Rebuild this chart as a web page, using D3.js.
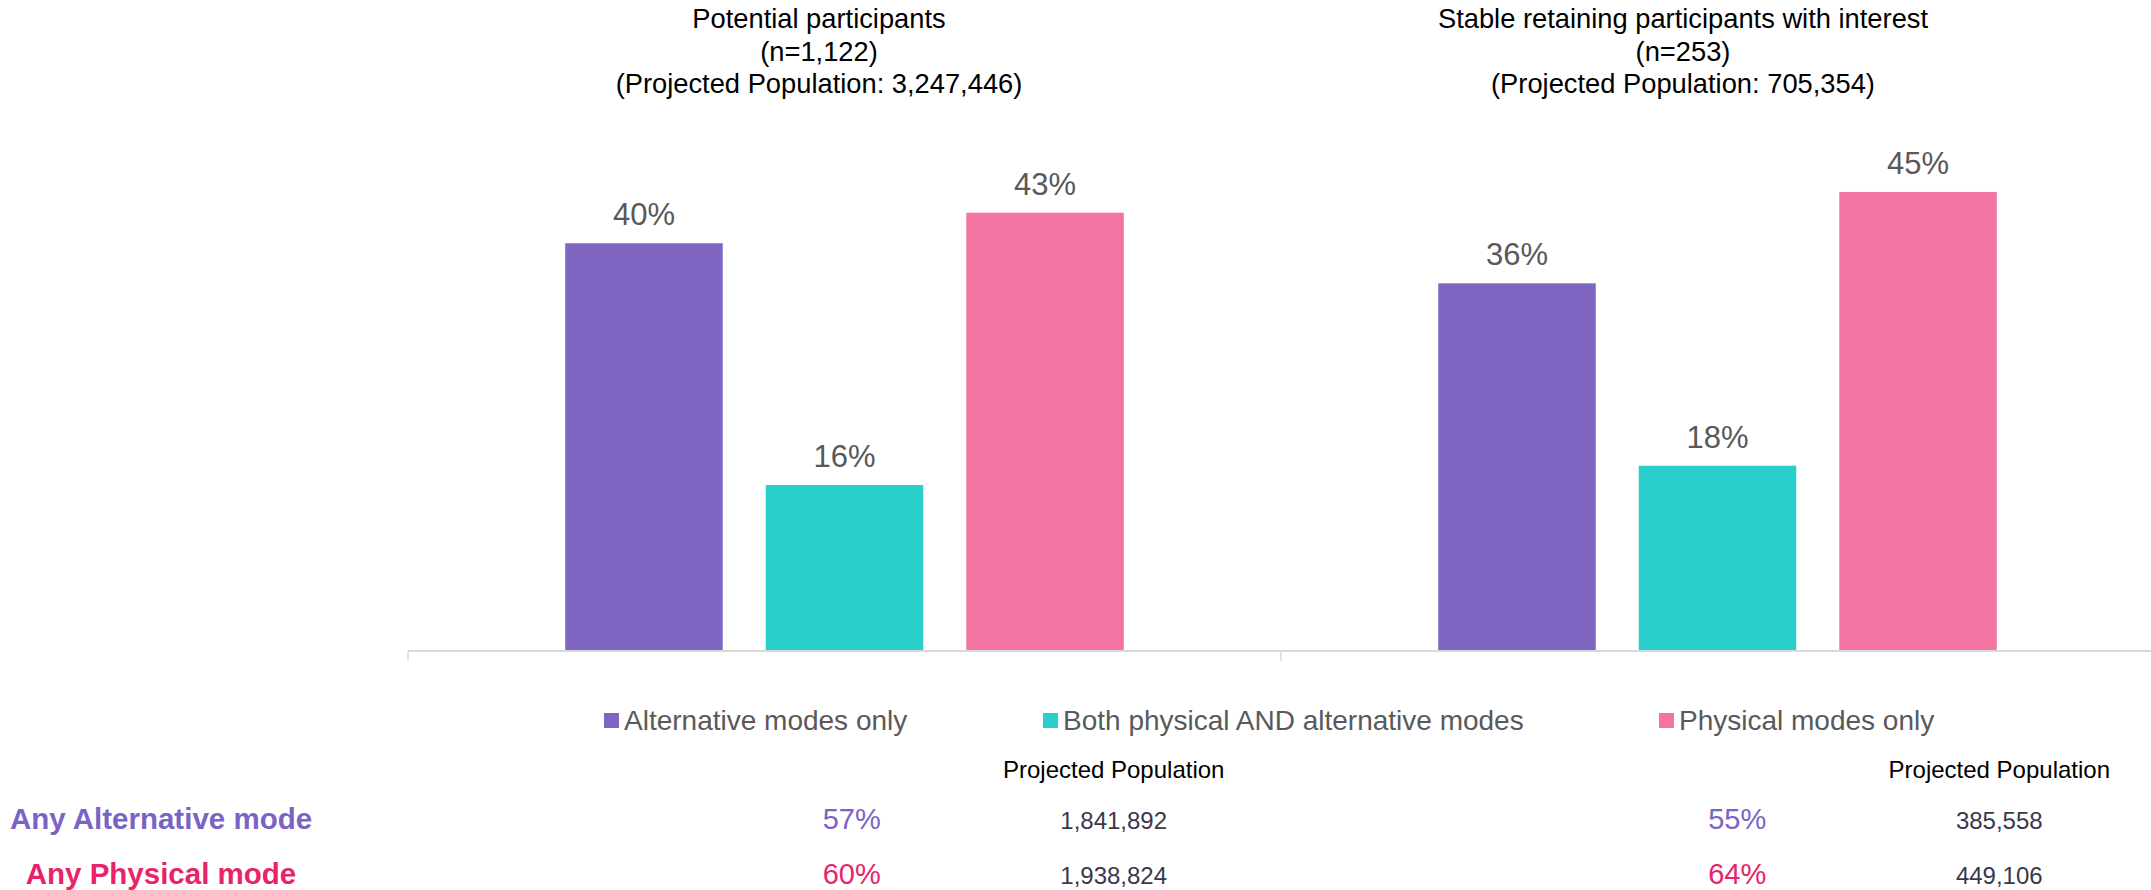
<!DOCTYPE html>
<html>
<head>
<meta charset="utf-8">
<script src="https://cdn.jsdelivr.net/npm/d3@7"></script>
<style>
  html, body { margin: 0; padding: 0; background: #ffffff; }
  svg { display: block; font-family: "Liberation Sans", Arial, sans-serif; }
</style>
</head>
<body>
<svg id="chart" width="2151" height="890"></svg>
<script>
// ---- data ----
const categories = ["Potential participants", "Stable retaining participants with interest"];
const sampleSizes = ["(n=1,122)", "(n=253)"];
const projectedTotals = ["(Projected Population: 3,247,446)", "(Projected Population: 705,354)"];
const seriesNames = ["Alternative modes only", "Both physical AND alternative modes", "Physical modes only"];
const alternativeOnly = [0.4029, 0.3633];
const bothModes = [0.164, 0.1831];
const physicalOnly = [0.4331, 0.4536];
const rowLabels = ["Any Alternative mode", "Any Physical mode"];
const anyAlternativePct = [0.57, 0.55];
const anyPhysicalPct = [0.60, 0.64];
const anyAlternativePop = [1841892, 385558];
const anyPhysicalPop = [1938824, 449106];
const popHeader = "Projected Population";

// ---- layout ----
const W = 2151, H = 890;
const baseY = 651;
const seriesColors = ["#7F66C2", "#2ACFCB", "#F374A2"];
const rowColors = ["#7B63C6", "#E8236A"];
const svg = d3.select("#chart");

const x0 = d3.scaleBand().domain(categories).range([408, 2154]).padding(0);
const x1 = d3.scaleBand().domain(seriesNames).range([0, x0.bandwidth()])
  .paddingInner(0.2145).paddingOuter(0.784);
const y = d3.scaleLinear().domain([0, 0.5]).range([baseY, baseY - 506]);
const color = d3.scaleOrdinal().domain(seriesNames).range(seriesColors);

const seriesValues = [alternativeOnly, bothModes, physicalOnly];
const rows = [];
categories.forEach((c, ci) => {
  seriesNames.forEach((s, si) => rows.push({cat: c, series: s, value: seriesValues[si][ci]}));
});

// bars
svg.append("g").selectAll("rect").data(rows).join("rect")
  .attr("x", d => x0(d.cat) + x1(d.series))
  .attr("y", d => y(d.value))
  .attr("width", x1.bandwidth())
  .attr("height", d => y(0) - y(d.value))
  .attr("fill", d => color(d.series));

// bar labels
const pct = d3.format(".0%");
svg.append("g").selectAll("text").data(rows).join("text")
  .attr("x", d => x0(d.cat) + x1(d.series) + x1.bandwidth() / 2)
  .attr("y", d => y(d.value) - 18)
  .attr("text-anchor", "middle")
  .attr("font-size", 31)
  .attr("fill", "#595959")
  .text(d => pct(d.value));

// axis line with category boundary ticks
const axis = d3.axisBottom(x0).tickSize(0).tickFormat("");
const ag = svg.append("g").attr("transform", `translate(0,${baseY})`).call(axis);
ag.select(".domain").attr("stroke", "#d9d9d9").attr("stroke-width", 2)
  .attr("d", `M${x0.range()[0]},0H${x0.range()[1]}`);
const bounds = categories.map(c => x0(c)).concat([x0.range()[1]]);
ag.selectAll(".bound").data(bounds).join("line")
  .attr("class", "bound")
  .attr("x1", d => d).attr("x2", d => d)
  .attr("y1", 0).attr("y2", 10)
  .attr("stroke", "#d9d9d9").attr("stroke-width", 1.5);

// titles
const titleCenters = [819, 1683];
categories.forEach((c, i) => {
  const t = svg.append("text").attr("text-anchor", "middle").attr("font-size", 27.3).attr("fill", "#000");
  [c, sampleSizes[i], projectedTotals[i]].forEach((line, li) => {
    t.append("tspan").attr("x", titleCenters[i]).attr("y", 28 + li * 32.5).text(line);
  });
});

// legend
const legendX = [604, 1043, 1659];
const lg = svg.append("g");
seriesNames.forEach((s, i) => {
  lg.append("rect").attr("x", legendX[i]).attr("y", 713).attr("width", 15).attr("height", 15)
    .attr("fill", color(s));
  lg.append("text").attr("x", legendX[i] + 20).attr("y", 730)
    .attr("font-size", 28).attr("fill", "#595959").text(s);
});

// summary table
const pctCols = [851.7, 1737.2];
const popCols = [1113.7, 1999.3];
const rowY = [829, 884];
const num = d3.format(",");
const pctRows = [anyAlternativePct, anyPhysicalPct];
const popRows = [anyAlternativePop, anyPhysicalPop];

popCols.forEach(px => {
  svg.append("text").attr("x", px).attr("y", 778).attr("text-anchor", "middle")
    .attr("font-size", 24).attr("fill", "#000").text(popHeader);
});
rowLabels.forEach((lab, ri) => {
  svg.append("text").attr("x", 161).attr("y", rowY[ri]).attr("text-anchor", "middle")
    .attr("font-size", 29.5).attr("font-weight", "bold").attr("fill", rowColors[ri]).text(lab);
  categories.forEach((c, ci) => {
    svg.append("text").attr("x", pctCols[ci]).attr("y", rowY[ri]).attr("text-anchor", "middle")
      .attr("font-size", 29).attr("fill", rowColors[ri]).text(pct(pctRows[ri][ci]));
    svg.append("text").attr("x", popCols[ci]).attr("y", rowY[ri]).attr("text-anchor", "middle")
      .attr("font-size", 24).attr("fill", "#3A384C").text(num(popRows[ri][ci]));
  });
});
</script>
</body>
</html>
